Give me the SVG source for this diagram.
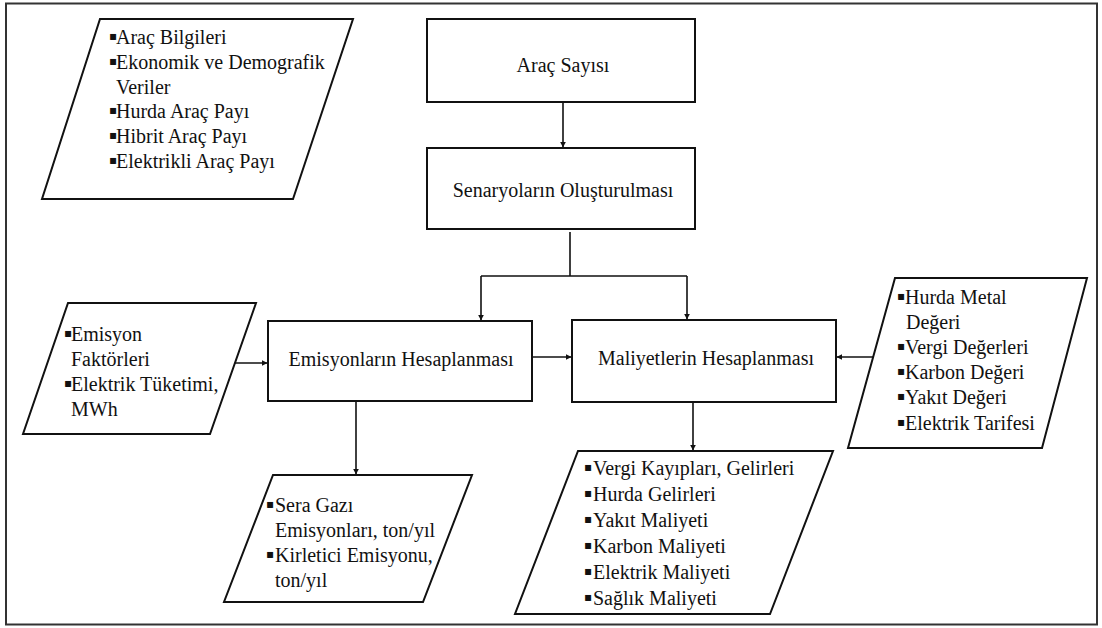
<svg xmlns="http://www.w3.org/2000/svg" width="1102" height="628" viewBox="0 0 1102 628">
<style>
.t{font-family:"Liberation Serif",Tinos,"Times New Roman",Times,"Nimbus Roman","Noto Serif","DejaVu Serif",FreeSerif,serif;font-size:20px;fill:#111}
.c{text-anchor:middle}
.b{font-family:"DejaVu Sans",sans-serif;font-size:12px}
.box{fill:#fff;stroke:#111;stroke-width:2}
.con{fill:none;stroke:#111;stroke-width:1.6}
</style>
<defs>
<marker id="ah" viewBox="0 0 10 10" refX="9" refY="5" markerWidth="6" markerHeight="6" markerUnits="userSpaceOnUse" orient="auto">
<path d="M0,0 L10,5 L0,10 z" fill="#111"/>
</marker>
</defs>
<rect x="0" y="0" width="1102" height="628" fill="#fff"/>
<rect x="6" y="3.5" width="1091" height="621" fill="none" stroke="#333" stroke-width="2"/>

<g id="connectors">
<path class="con" d="M563,102 V147" marker-end="url(#ah)"/>
<path class="con" d="M570,232 V276 M481,276 H687"/>
<path class="con" d="M481,276 V320" marker-end="url(#ah)"/>
<path class="con" d="M687,276 V319" marker-end="url(#ah)"/>
<path class="con" d="M233,363 H267" marker-end="url(#ah)"/>
<path class="con" d="M532,357 H571" marker-end="url(#ah)"/>
<path class="con" d="M873,357 H837" marker-end="url(#ah)"/>
<path class="con" d="M356,401 V474" marker-end="url(#ah)"/>
<path class="con" d="M693,402 V450" marker-end="url(#ah)"/>
</g>

<g id="inputs-top">
<polygon class="box" points="100,19 353,19 293,199 42,199"/>
<text class="t" y="44"><tspan class="b" x="109" dy="-4">▪</tspan><tspan x="116" dy="4">Araç Bilgileri</tspan></text>
<text class="t" y="69"><tspan class="b" x="109" dy="-4">▪</tspan><tspan x="116" dy="4">Ekonomik ve Demografik</tspan></text>
<text class="t" x="116" y="94">Veriler</text>
<text class="t" y="118"><tspan class="b" x="109" dy="-4">▪</tspan><tspan x="116" dy="4">Hurda Araç Payı</tspan></text>
<text class="t" y="143"><tspan class="b" x="109" dy="-4">▪</tspan><tspan x="116" dy="4">Hibrit Araç Payı</tspan></text>
<text class="t" y="168"><tspan class="b" x="109" dy="-4">▪</tspan><tspan x="116" dy="4">Elektrikli Araç Payı</tspan></text>
</g>

<g id="arac-sayisi">
<rect class="box" x="427" y="19" width="268" height="83"/>
<text class="t c" x="563" y="72">Araç Sayısı</text>
</g>

<g id="senaryolar">
<rect class="box" x="427" y="148" width="268" height="81"/>
<text class="t c" x="563" y="197">Senaryoların Oluşturulması</text>
</g>

<g id="inputs-emisyon">
<polygon class="box" points="68,303 256,303 210,434 23,434"/>
<text class="t" y="341"><tspan class="b" x="64" dy="-4">▪</tspan><tspan x="71" dy="4">Emisyon</tspan></text>
<text class="t" x="71" y="366">Faktörleri</text>
<text class="t" y="391"><tspan class="b" x="64" dy="-4">▪</tspan><tspan x="71" dy="4">Elektrik Tüketimi,</tspan></text>
<text class="t" x="71" y="416">MWh</text>
</g>

<g id="emisyon">
<rect class="box" x="268" y="321" width="264" height="80"/>
<text class="t c" x="401" y="366">Emisyonların Hesaplanması</text>
</g>

<g id="maliyet">
<rect class="box" x="572" y="320" width="264" height="82"/>
<text class="t c" x="706" y="365">Maliyetlerin Hesaplanması</text>
</g>

<g id="inputs-maliyet">
<polygon class="box" points="895,278 1087,278 1042,448 848,448"/>
<text class="t" y="304"><tspan class="b" x="897" dy="-4">▪</tspan><tspan x="905" dy="4">Hurda Metal</tspan></text>
<text class="t" x="906" y="329">Değeri</text>
<text class="t" y="354"><tspan class="b" x="897" dy="-4">▪</tspan><tspan x="905" dy="4">Vergi Değerleri</tspan></text>
<text class="t" y="379"><tspan class="b" x="897" dy="-4">▪</tspan><tspan x="905" dy="4">Karbon Değeri</tspan></text>
<text class="t" y="404"><tspan class="b" x="897" dy="-4">▪</tspan><tspan x="905" dy="4">Yakıt Değeri</tspan></text>
<text class="t" y="430"><tspan class="b" x="897" dy="-4">▪</tspan><tspan x="905" dy="4">Elektrik Tarifesi</tspan></text>
</g>

<g id="outputs-emisyon">
<polygon class="box" points="273,475 472,475 423,602 224,602"/>
<text class="t" y="512"><tspan class="b" x="266" dy="-4">▪</tspan><tspan x="275" dy="4">Sera Gazı</tspan></text>
<text class="t" x="275" y="537">Emisyonları, ton/yıl</text>
<text class="t" y="562"><tspan class="b" x="266" dy="-4">▪</tspan><tspan x="275" dy="4">Kirletici Emisyonu,</tspan></text>
<text class="t" x="275" y="587">ton/yıl</text>
</g>

<g id="outputs-maliyet">
<polygon class="box" points="578,451 833,451 770,614 515,614"/>
<text class="t" y="475"><tspan class="b" x="584" dy="-4">▪</tspan><tspan x="593" dy="4">Vergi Kayıpları, Gelirleri</tspan></text>
<text class="t" y="501"><tspan class="b" x="584" dy="-4">▪</tspan><tspan x="593" dy="4">Hurda Gelirleri</tspan></text>
<text class="t" y="527"><tspan class="b" x="584" dy="-4">▪</tspan><tspan x="593" dy="4">Yakıt Maliyeti</tspan></text>
<text class="t" y="553"><tspan class="b" x="584" dy="-4">▪</tspan><tspan x="593" dy="4">Karbon Maliyeti</tspan></text>
<text class="t" y="579"><tspan class="b" x="584" dy="-4">▪</tspan><tspan x="593" dy="4">Elektrik Maliyeti</tspan></text>
<text class="t" y="605"><tspan class="b" x="584" dy="-4">▪</tspan><tspan x="593" dy="4">Sağlık Maliyeti</tspan></text>
</g>
</svg>
